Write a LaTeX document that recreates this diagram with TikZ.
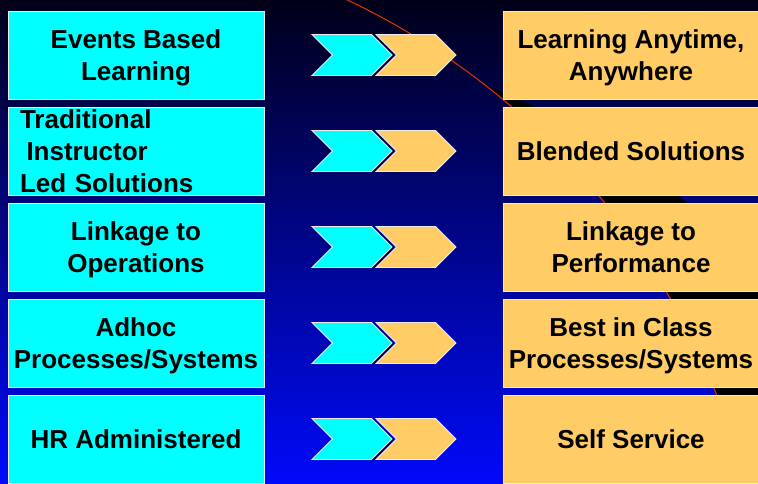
\documentclass[tikz,border=0pt]{standalone}
\usepackage{fontspec}
\setmainfont{Liberation Sans}
\usetikzlibrary{shapes.symbols,shadows}

\definecolor{bgtop}{RGB}{0,0,25}
\definecolor{bgbot}{RGB}{0,10,250}
\definecolor{aqua}{RGB}{0,255,255}
\definecolor{peach}{RGB}{255,204,102}
\definecolor{arcred}{RGB}{230,50,0}
\definecolor{rim}{RGB}{235,235,240}
\definecolor{navyshade}{RGB}{0,0,70}

\tikzset{
  boxfont/.style={font=\fontsize{26}{32}\selectfont\bfseries},
  panel/.style={draw=rim, line width=1pt, minimum width=256pt,
    minimum height=88pt, inner sep=0pt, align=center, text depth=0pt, boxfont},
  oldbox/.style={panel, fill=aqua},
  newbox/.style={panel, fill=peach},
  chevron/.style={shape=signal, signal to=east, signal from=west,
    signal pointer angle=90, minimum width=80pt, minimum height=41pt,
    inner sep=0pt, draw=rim, line width=0.8pt},
  shadowed/.style={drop shadow={shadow xshift=2.5pt, shadow yshift=-0.5pt,
    fill=navyshade, opacity=1}},
  backdrop/.style={top color=bgtop, bottom color=bgbot},
}

\begin{document}
\begin{tikzpicture}[x=1pt,y=-1pt]
  \useasboundingbox (0,0) rectangle (758,483);
  \clip (0,0) rectangle (758,483);

  % gradient backdrop
  \shade[backdrop] (0,0) rectangle (758,483);
  % black crescent behind the red arc
  \fill[black] (223,772) circle[radius=734.5];
  \begin{scope}
    \clip (33,664) circle[radius=734.5];
    \shade[backdrop] (0,0) rectangle (758,483);
  \end{scope}
  \draw[arcred, line width=1pt] (33,664) circle[radius=734.5];

  % current state (left column)
  \node[oldbox] (old1) at (136,55) {Events Based\\Learning};
  \node[oldbox, align=left, text width=232pt, inner xsep=12pt, text depth=] (old2)
    at (136,151) {Traditional\\\hspace*{6.5pt}Instructor\\Led Solutions};
  \node[oldbox] (old3) at (136,247) {Linkage to\\Operations};
  \node[oldbox] (old4) at (136,343) {Adhoc\\Processes/Systems};
  \node[oldbox] (old5) at (136,439) {HR Administered};

  % target state (right column)
  \node[newbox] (new1) at (631,55) {Learning Anytime,\\Anywhere};
  \node[newbox] (new2) at (631,151) {Blended Solutions};
  \node[newbox] (new3) at (631,247) {Linkage to\\Performance};
  \node[newbox] (new4) at (631,343) {Best in Class\\Processes/Systems};
  \node[newbox] (new5) at (631,439) {Self Service};

  % transition chevrons
  \foreach \k in {1,...,5} {
    \node[chevron, shadowed, fill=aqua] (from\k) at (352,{55+96*(\k-1)}) {};
    \node[chevron, fill=peach] (to\k) at (416,{55+96*(\k-1)}) {};
  }
\end{tikzpicture}
\end{document}
